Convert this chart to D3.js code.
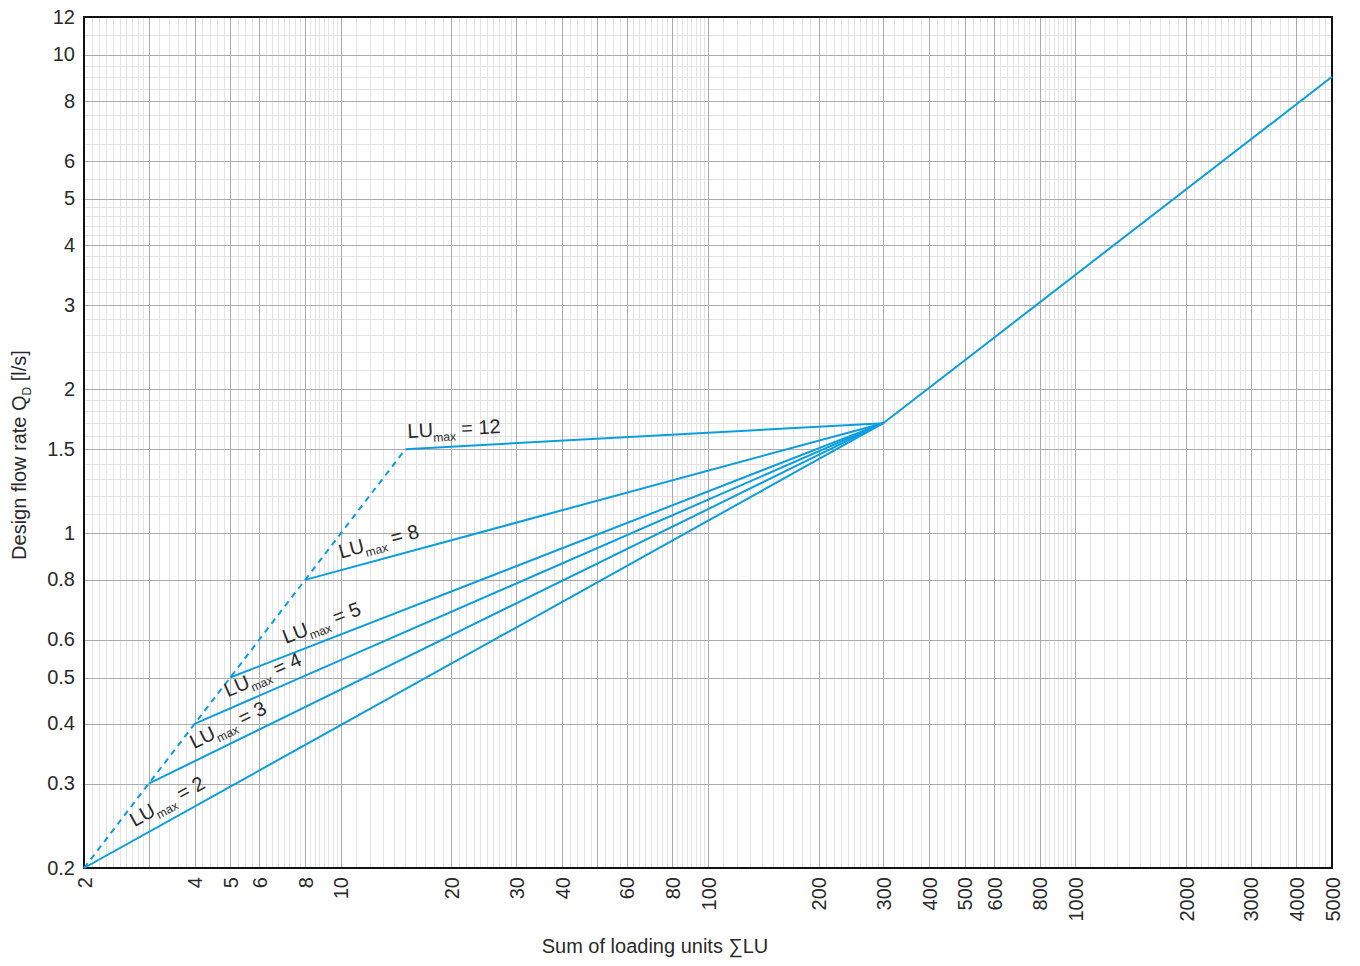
<!DOCTYPE html>
<html>
<head>
<meta charset="utf-8">
<script src="https://cdn.jsdelivr.net/npm/d3@7"></script>
<style>
  body { margin: 0; background: #fff; }
  svg { display: block; }
  text { font-family: "Liberation Sans", Arial, Helvetica, sans-serif; fill: #2a2a2a; }
</style>
</head>
<body>
<svg id="chart" width="1360" height="966"></svg>
<script>
// ---- data -------------------------------------------------------------
// labelled ticks
const xTickValues = [2, 4, 5, 6, 8, 10, 20, 30, 40, 60, 80, 100, 200, 300, 400, 500, 600, 800, 1000, 2000, 3000, 4000, 5000];
const yTickValues = [0.2, 0.3, 0.4, 0.5, 0.6, 0.8, 1, 1.5, 2, 3, 4, 5, 6, 8, 10, 12];
const xDomain = [2, 5000];
const yDomain = [0.2, 12];

// knee points of each LUmax curve (on Q = 0.1·ΣLU, drawn dashed)
const kneeLU = [2, 3, 4, 5, 8, 15];
const kneeQ  = [0.2, 0.3, 0.4, 0.5, 0.8, 1.5];
const luMax  = [2, 3, 4, 5, 8, 12];

// all curves meet here, then continue as one line
const joinLU = 300, joinQ = 1.7;
const endLU = 5000, endQ = 9.0;

// ---- layout -----------------------------------------------------------
const plot = { left: 84, right: 1332, top: 17, bottom: 868 };
const lineColor = "#0a9ee0";
// distance (px) along each curve where its label starts
const labelAlong = [64, 56, 41, 64, 40, 3];
const labelLift = 11;

const svg = d3.select("#chart");
const x = d3.scaleLog().domain(xDomain).range([plot.left, plot.right]);
const y = d3.scaleLog().domain(yDomain).range([plot.bottom, plot.top]);

// ---- log-paper grid ---------------------------------------------------
function gridValues(lo, hi, specFor) {
  const out = [];
  for (let e = Math.floor(Math.log10(lo)); Math.pow(10, e) <= hi; e++) {
    const d = Math.pow(10, e);
    specFor(e).forEach(([a, b, s]) => {
      const n = Math.round((b - a) / s);
      for (let i = 0; i < n; i++) {
        const v = +((a + i * s) * d).toPrecision(8);
        if (v > lo * 1.0001 && v < hi * 0.9999) out.push(v);
      }
    });
  }
  return out;
}
const xMinor = gridValues(xDomain[0], xDomain[1], () => [[1, 2, 0.1], [2, 3, 0.1], [3, 5, 0.2], [5, 10, 0.25]]);
const yMinor = gridValues(yDomain[0], yDomain[1], e =>
  e < 0 ? [[0.1, 0.5, 0.01], [0.5, 1, 0.05]]
        : e === 0 ? [[1, 2, 0.1], [2, 5, 0.2], [5, 10, 0.5]]
        : [[1, 1.3, 0.1]]);
const xMajor = [3, 10, 20, 30, 40, 50, 60, 80, 100, 200, 300, 400, 500, 600, 800, 1000, 2000, 3000, 4000]
  .concat(xTickValues).filter((v, i, a) => a.indexOf(v) === i && v > xDomain[0] && v < xDomain[1]);
const yMajor = yTickValues.filter(v => v > yDomain[0] && v < yDomain[1]);

const grid = svg.append("g").attr("shape-rendering", "crispEdges");
const snap = v => Math.round(v) + 0.5;
grid.selectAll("line.vx").data(xMinor).join("line")
  .attr("x1", d => snap(x(d))).attr("x2", d => snap(x(d)))
  .attr("y1", plot.top).attr("y2", plot.bottom)
  .attr("stroke", "#e3e3e3").attr("stroke-width", 1);
grid.selectAll("line.hy").data(yMinor).join("line")
  .attr("y1", d => snap(y(d))).attr("y2", d => snap(y(d)))
  .attr("x1", plot.left).attr("x2", plot.right)
  .attr("stroke", "#e3e3e3").attr("stroke-width", 1);
grid.selectAll("line.VX").data(xMajor).join("line")
  .attr("x1", d => snap(x(d))).attr("x2", d => snap(x(d)))
  .attr("y1", plot.top).attr("y2", plot.bottom)
  .attr("stroke", "#ababab").attr("stroke-width", 1);
grid.selectAll("line.HY").data(yMajor).join("line")
  .attr("y1", d => snap(y(d))).attr("y2", d => snap(y(d)))
  .attr("x1", plot.left).attr("x2", plot.right)
  .attr("stroke", "#ababab").attr("stroke-width", 1);

// ---- axes -------------------------------------------------------------
const fmt = d => String(d);
const xAxis = svg.append("g")
  .attr("transform", `translate(0,${plot.bottom})`)
  .call(d3.axisBottom(x).tickValues(xTickValues).tickFormat(fmt).tickSize(0));
xAxis.select(".domain").remove();
xAxis.selectAll("text")
  .attr("transform", "rotate(-90)")
  .attr("x", -9).attr("y", 0).attr("dy", "0.36em")
  .style("text-anchor", "end")
  .style("font-size", "20px")
  .style("font-family", "'Liberation Sans', Arial, sans-serif")
  .style("fill", "#2a2a2a");

const yAxis = svg.append("g")
  .attr("transform", `translate(${plot.left},0)`)
  .call(d3.axisLeft(y).tickValues(yTickValues).tickFormat(fmt).tickSize(0));
yAxis.select(".domain").remove();
yAxis.selectAll("text")
  .attr("x", -9).attr("dy", "0.3em")
  .style("font-size", "20px")
  .style("font-family", "'Liberation Sans', Arial, sans-serif")
  .style("fill", "#2a2a2a");

// frame
svg.append("rect")
  .attr("x", plot.left).attr("y", plot.top)
  .attr("width", plot.right - plot.left).attr("height", plot.bottom - plot.top)
  .attr("fill", "none").attr("stroke", "#111").attr("stroke-width", 2);

// ---- curves -----------------------------------------------------------
const line = d3.line().x(d => x(d[0])).y(d => y(d[1]));
const curves = svg.append("g").attr("fill", "none").attr("stroke", lineColor).attr("stroke-width", 2);

curves.append("path")
  .attr("d", line(kneeLU.map((v, i) => [v, kneeQ[i]])))
  .attr("stroke-dasharray", "6,5");

kneeLU.forEach((v, i) => {
  curves.append("path").attr("d", line([[v, kneeQ[i]], [joinLU, joinQ]]));
});
curves.append("path").attr("d", line([[joinLU, joinQ], [endLU, endQ]]));

// ---- curve labels -----------------------------------------------------
const labels = svg.append("g");
kneeLU.forEach((v, i) => {
  const x0 = x(v), y0 = y(kneeQ[i]);
  const dx = x(joinLU) - x0, dy = y(joinQ) - y0;
  const len = Math.hypot(dx, dy);
  const ux = dx / len, uy = dy / len;      // along the curve
  const nx = uy, ny = -ux;                 // upward normal
  const px = x0 + ux * labelAlong[i] + nx * labelLift;
  const py = y0 + uy * labelAlong[i] + ny * labelLift;
  const ang = Math.atan2(dy, dx) * 180 / Math.PI;
  const t = labels.append("text")
    .attr("transform", `translate(${px},${py}) rotate(${ang})`)
    .style("font-size", "20px");
  t.append("tspan").text("LU");
  t.append("tspan").attr("dy", 5).style("font-size", "12px").text("max");
  t.append("tspan").attr("dy", -5).text(" = " + luMax[i]);
});

// ---- axis titles ------------------------------------------------------
svg.append("text")
  .attr("x", (plot.left + plot.right) / 2 - 53).attr("y", 953)
  .attr("text-anchor", "middle")
  .style("font-size", "20px")
  .text("Sum of loading units \u2211LU");

const yt = svg.append("text")
  .attr("transform", "translate(26,455) rotate(-90)")
  .attr("text-anchor", "middle")
  .style("font-size", "20px");
yt.append("tspan").text("Design flow rate Q");
yt.append("tspan").attr("dy", 5).style("font-size", "12px").text("D");
yt.append("tspan").attr("dy", -5).text(" [l/s]");
</script>
</body>
</html>
